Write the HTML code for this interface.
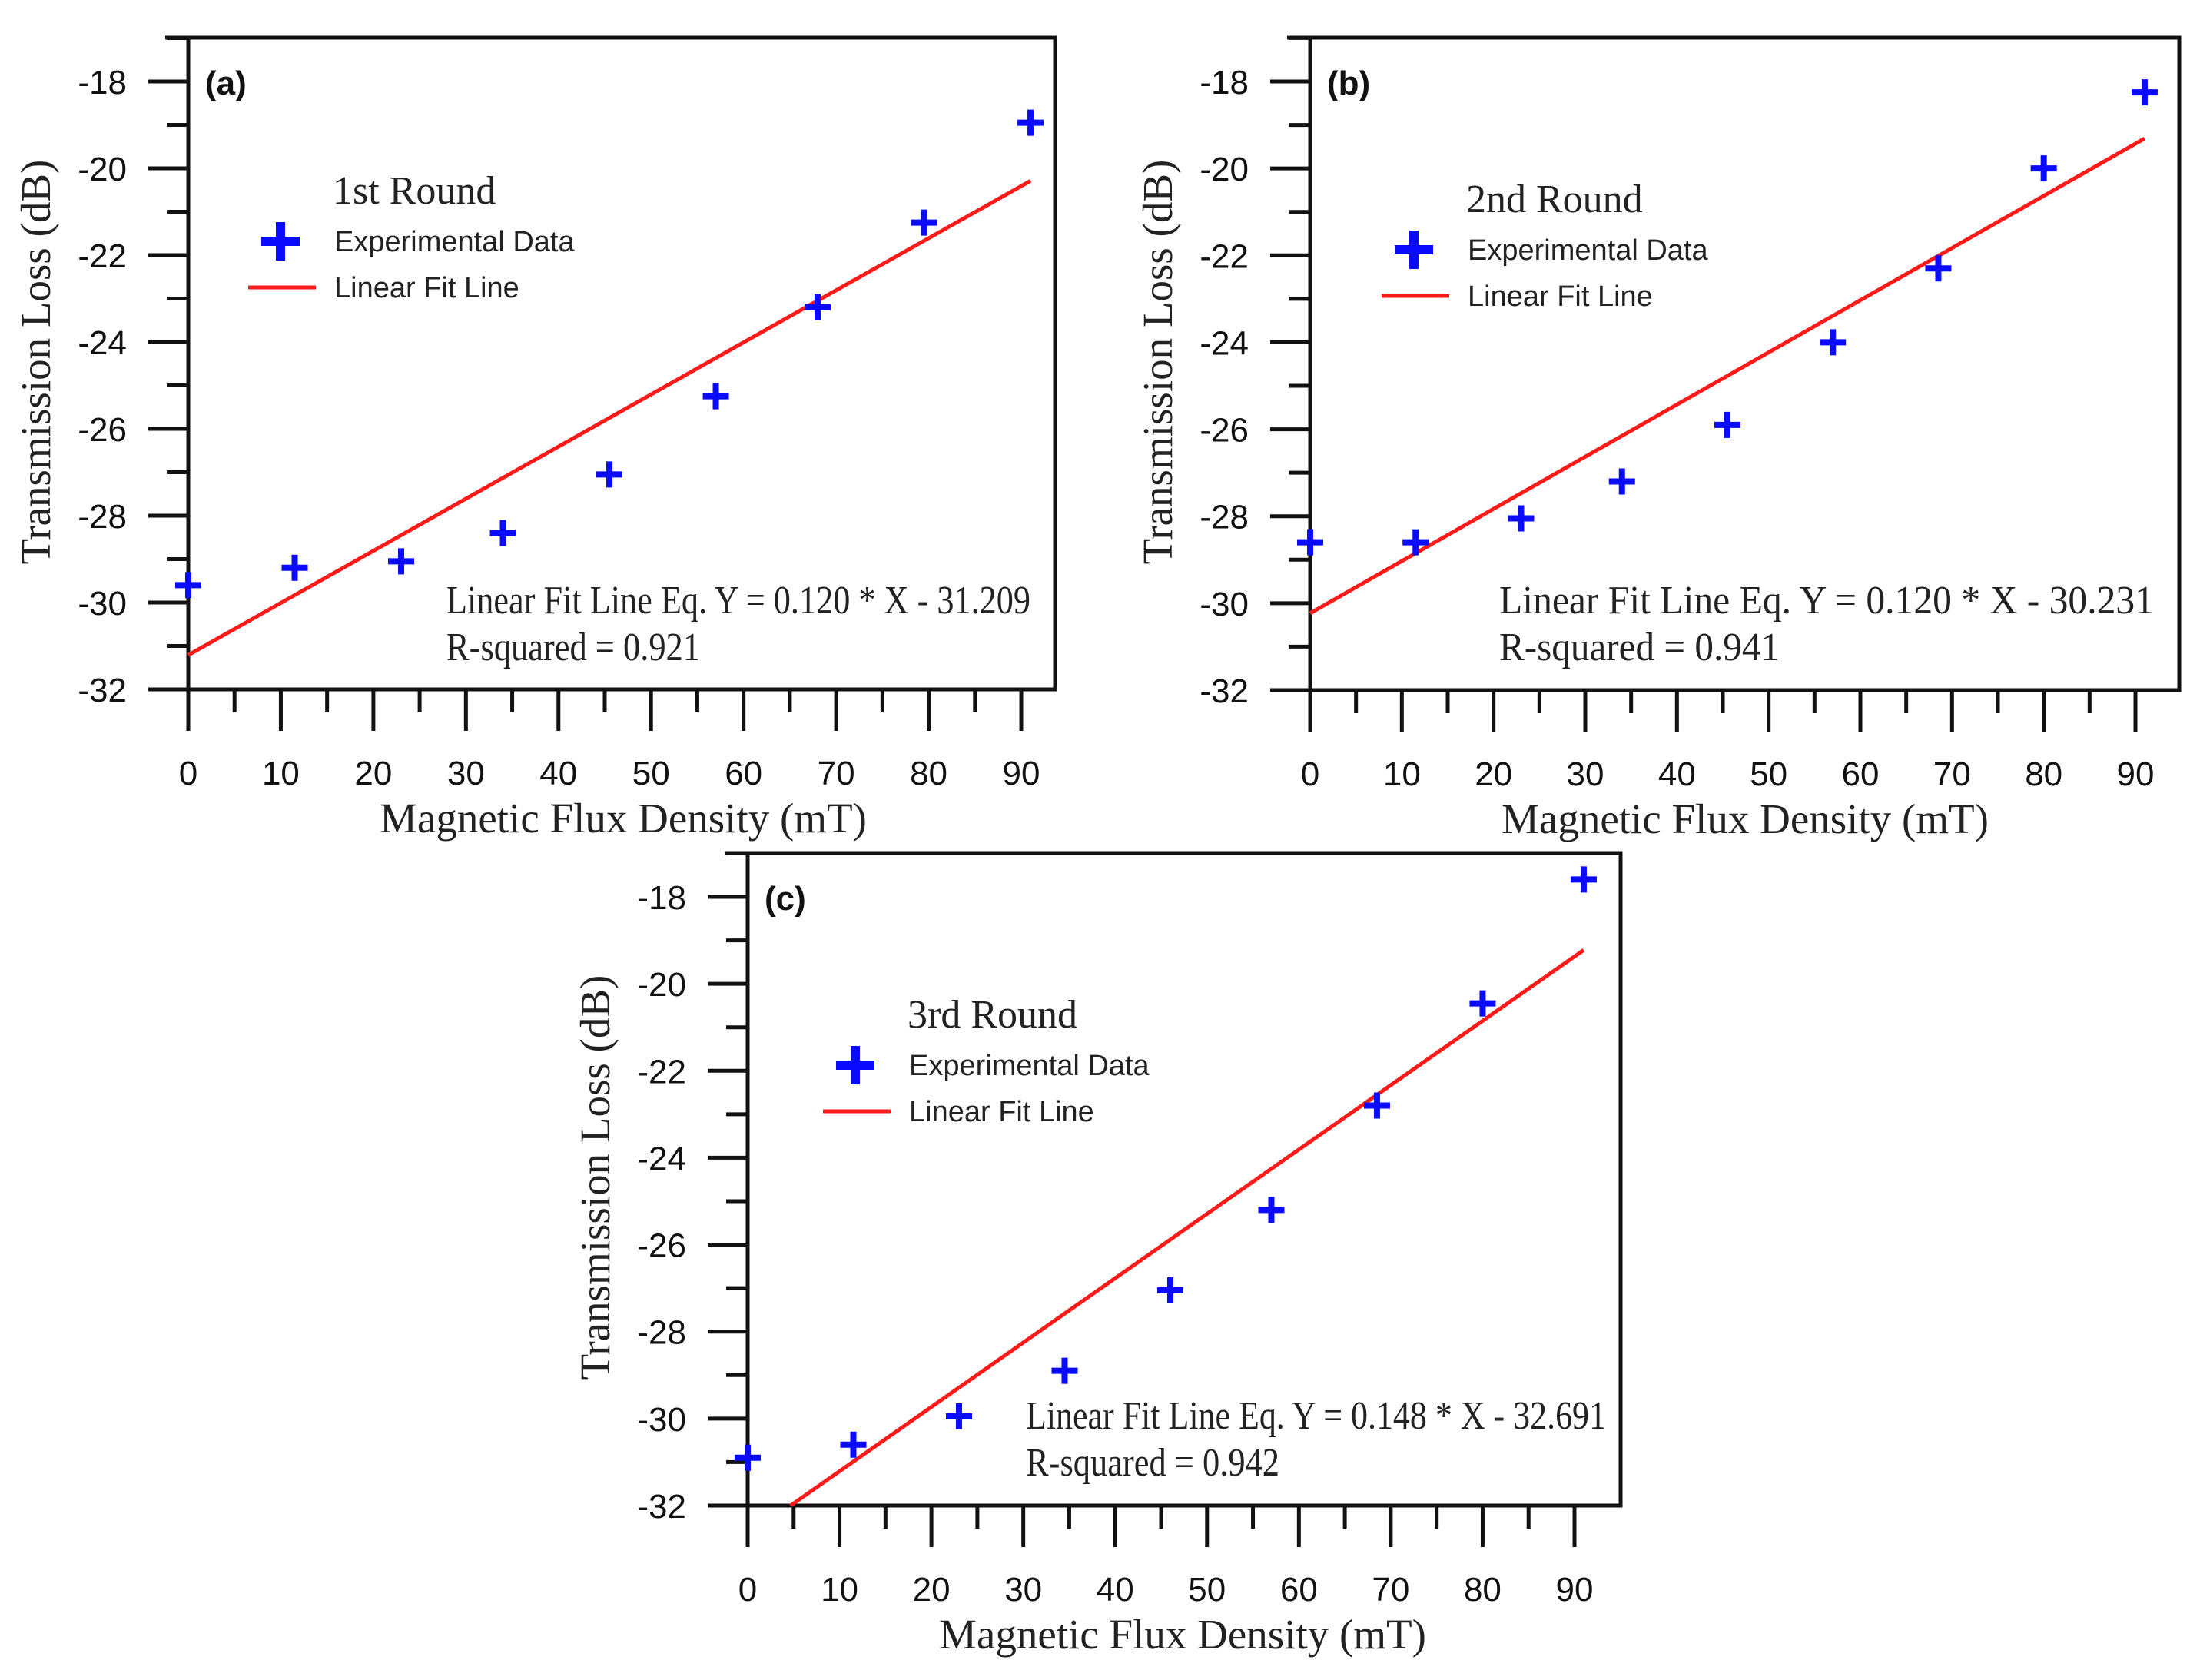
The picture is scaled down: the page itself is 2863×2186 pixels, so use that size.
<!DOCTYPE html>
<html><head><meta charset="utf-8">
<style>
html,body{margin:0;padding:0;background:#fff;}
svg{display:block;}
.tick{font-family:"Liberation Sans",Arial,sans-serif;font-size:44px;fill:#111;}
.ser{font-family:"Liberation Serif","Times New Roman",serif;fill:#222;}
.leg{font-family:"Liberation Sans",Arial,sans-serif;font-size:38px;fill:#222;}
</style></head>
<body>
<svg id="chart" width="2863" height="2186" viewBox="0 0 2863 2186" xmlns="http://www.w3.org/2000/svg"></svg>
<script>
// ---- data ----
const xValuesA = [0, 11.5, 23, 34, 45.5, 57, 68, 79.5, 91];
const yValuesA = [-29.6, -29.2, -29.05, -28.4, -27.05, -25.25, -23.2, -21.25, -18.95];
const xValuesB = [0, 11.5, 23, 34, 45.5, 57, 68.5, 80, 91];
const yValuesB = [-28.6, -28.6, -28.05, -27.2, -25.9, -24.0, -22.3, -20.0, -18.25];
const xValuesC = [0, 11.5, 23, 34.5, 46, 57, 68.5, 80, 91];
const yValuesC = [-30.9, -30.6, -29.95, -28.9, -27.05, -25.2, -22.8, -20.45, -17.6];
const slopes = [0.120, 0.120, 0.148];
const intercepts = [-31.209, -30.231, -32.691];
const rSquared = ["0.921", "0.941", "0.942"];
const roundLabels = ["1st Round", "2nd Round", "3rd Round"];
const panelLetters = ["(a)", "(b)", "(c)"];
const xTickLabels = [0, 10, 20, 30, 40, 50, 60, 70, 80, 90];
const yTickLabels = [-32, -30, -28, -26, -24, -22, -20, -18];

const NS = "http://www.w3.org/2000/svg";
const svg = document.getElementById("chart");
function mk(tag, attrs, parent) {
  const e = document.createElementNS(NS, tag);
  for (const k in attrs) e.setAttribute(k, attrs[k]);
  (parent || svg).appendChild(e);
  return e;
}

// panel geometry (pixel layout)
const panels = [
  {left: 245, right: 1373, top: 49, bottom: 897, x90: 1329, y18: 106, legDy: 0, legDx: 0, eqDx: 336, eqLen: 760, rsLen: 330},
  {left: 1705, right: 2836, top: 49, bottom: 898, x90: 2779, y18: 106, legDy: 11, legDx: 15, eqDx: 246, eqLen: 852, rsLen: 365},
  {left: 973, right: 2109, top: 1110, bottom: 1959, x90: 2049, y18: 1167, legDy: 11, legDx: 20, eqDx: 362, eqLen: 755, rsLen: 330}
];
const xsList = [xValuesA, xValuesB, xValuesC];
const ysList = [yValuesA, yValuesB, yValuesC];

panels.forEach((p, i) => {
  const g = mk("g", {});
  
  
  const X = v => p.left + (p.x90 - p.left) * v / 90;
  const Y = v => p.bottom + (p.y18 - p.bottom) * (v + 32) / 14;

  const frame = mk("path", {d: `M${p.left},${p.bottom} L${p.left},${p.top} L${p.right},${p.top} L${p.right},${p.bottom} Z`, fill: "none", stroke: "#111", "stroke-width": 5}, g);
  
  
  const topExt = mk("line", {x1: p.left - 30, y1: p.top, x2: p.left, y2: p.top, stroke: "#111", "stroke-width": 5}, g);
  
  

  const yAxis = mk("g", {}, g);
  
  
  for (let v = -32; v <= -17; v += 1) {
    const major = (v % 2 === 0);
    const t = mk("line", {x1: p.left - (major ? 52 : 28), y1: Y(v), x2: p.left, y2: Y(v), stroke: "#111", "stroke-width": 5}, yAxis);
    
    
  }
  yTickLabels.forEach(v => {
    const t = mk("text", {x: p.left - 80, y: Y(v) + 16, "text-anchor": "end", class: "tick"}, yAxis);
    t.textContent = v;
    
    
  });
  const xAxis = mk("g", {}, g);
  
  
  for (let v = 0; v <= 90; v += 5) {
    const major = (v % 10 === 0);
    const t = mk("line", {x1: X(v), y1: p.bottom, x2: X(v), y2: p.bottom + (major ? 54 : 30), stroke: "#111", "stroke-width": 5}, xAxis);
    
    
  }
  xTickLabels.forEach(v => {
    const t = mk("text", {x: X(v), y: p.bottom + 124, "text-anchor": "middle", class: "tick"}, xAxis);
    t.textContent = v;
    
    
  });
  const xt = mk("text", {x: p.left + 566, y: p.bottom + 186, "text-anchor": "middle", class: "ser", "font-size": 55}, g);
  xt.textContent = "Magnetic Flux Density (mT)";
  
  
  const cy = p.top + 422;
  const yt = mk("text", {x: 0, y: 0, transform: `translate(${p.left - 180},${cy}) rotate(-90)`, "text-anchor": "middle", class: "ser", "font-size": 55}, g);
  yt.textContent = "Transmission Loss (dB)";
  
  

  const pl = mk("text", {x: p.left + 22, y: p.top + 74, class: "tick", "font-weight": "bold", "font-size": 46}, g);
  pl.textContent = panelLetters[i];
  
  

  const x0 = Math.max(0, (-32 - intercepts[i]) / slopes[i]);
  const x1 = 91;
  const fit = mk("line", {x1: X(x0), y1: Y(slopes[i] * x0 + intercepts[i]), x2: X(x1), y2: Y(slopes[i] * x1 + intercepts[i]), stroke: "#ff1a1a", "stroke-width": 5}, g);
  
  

  const xs = xsList[i], ys = ysList[i];
  xs.forEach((xv, j) => {
    const px = X(xv), py = Y(ys[j]);
    const c = mk("path", {d: `M${px - 17},${py} H${px + 17} M${px},${py - 17} V${py + 17}`, stroke: "#0a0aff", "stroke-width": 8, fill: "none"}, g);
    
    
  });

  const lg = mk("g", {}, g);
  
  
  const ld = p.legDy, lx = p.left + p.legDx;
  const lt = mk("text", {x: lx + 188, y: p.top + 216 + ld, class: "ser", "font-size": 52}, lg);
  lt.textContent = roundLabels[i];
  
  
  const lcx = lx + 120, lcy = p.top + 265 + ld;
  const lc = mk("path", {d: `M${lcx - 25},${lcy} H${lcx + 25} M${lcx},${lcy - 25} V${lcy + 25}`, stroke: "#0a0aff", "stroke-width": 12}, lg);
  
  
  const le = mk("text", {x: lx + 190, y: lcy + 13, class: "leg"}, lg);
  le.textContent = "Experimental Data";
  
  
  const lly = p.top + 325 + ld;
  const ll = mk("line", {x1: lx + 78, y1: lly, x2: lx + 166, y2: lly, stroke: "#ff1a1a", "stroke-width": 5}, lg);
  
  
  const lf = mk("text", {x: lx + 190, y: lly + 13, class: "leg"}, lg);
  lf.textContent = "Linear Fit Line";
  
  

  const eq = mk("text", {x: p.left + p.eqDx, y: p.top + 749, class: "ser", "font-size": 52, textLength: p.eqLen, lengthAdjust: "spacingAndGlyphs"}, g);
  eq.textContent = `Linear Fit Line Eq. Y = ${slopes[i].toFixed(3)} * X - ${Math.abs(intercepts[i]).toFixed(3)}`;
  
  
  const rs = mk("text", {x: p.left + p.eqDx, y: p.top + 810, class: "ser", "font-size": 52, textLength: p.rsLen, lengthAdjust: "spacingAndGlyphs"}, g);
  rs.textContent = `R-squared = ${rSquared[i]}`;
  
  
});
</script>
</body></html>
